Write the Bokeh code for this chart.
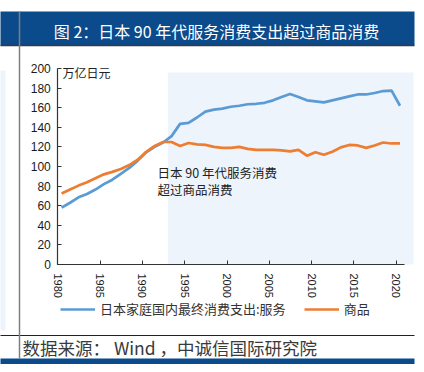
from bokeh.plotting import figure
from bokeh.models import Range1d, LinearAxis, FixedTicker, Label, Legend, LegendItem
from bokeh.embed import file_html
from bokeh.resources import INLINE

# ---------------- data ----------------
years = list(range(1980, 2021))
services = [58, 63, 68.5, 72, 76.5, 82, 86.5, 92.5, 98.5, 106, 114.5, 120, 124.5, 131,
            143.5, 144.5, 150, 156, 158, 159, 161, 162, 163.5, 164, 165, 167.5, 171,
            174, 171, 167.5, 166.5, 165.5, 167.5, 169.5, 171.5, 173.5, 173.5, 175, 177,
            177.5, 162]
goods = [72.5, 76.5, 80.5, 84, 88, 92, 94.5, 97.5, 101.5, 107, 115, 121, 125, 125,
         121, 124, 122.5, 122, 120, 119, 119, 120, 118, 117, 117, 117, 116.5, 115.5,
         117, 111, 114.5, 112, 115, 119.5, 122, 121.5, 119, 121.5, 124.5, 123.5, 123.5]
x_ticks = [1980, 1985, 1990, 1995, 2000, 2005, 2010, 2015, 2020]
y_ticks = [0, 20, 40, 60, 80, 100, 120, 140, 160, 180, 200]
shade_start = 1993
series_names = ["日本家庭国内最终消费支出:服务", "商品"]
title_text = "图 2：日本 90 年代服务消费支出超过商品消费"
source_text = "数据来源： Wind ，中诚信国际研究院"
unit_text = "万亿日元"
note_lines = ["日本 90 年代服务消费", "超过商品消费"]

# ---------------- canvas geometry ----------------
W, H = 416, 364
PX_YR = 8.46
X0_PX = 57.3          # canvas x of 1980
PX_U = 0.98
Y0_PX = 264.0         # canvas y of value 0
x_start = 1980 - X0_PX / PX_YR
x_end = x_start + W / PX_YR
y_end = Y0_PX / PX_U
y_start = (Y0_PX - H) / PX_U


def xd(px):
    return x_start + px / PX_YR


def yd(py):
    return (Y0_PX - py) / PX_U


CJK = "Noto Sans CJK SC"
BLUE_BAR = "#0b4a8b"

p = figure(width=W, height=H, output_backend="svg", toolbar_location=None,
           x_range=Range1d(x_start, x_end), y_range=Range1d(y_start, y_end),
           x_axis_location=None, y_axis_location=None, min_border=0,
           outline_line_color=None, background_fill_color="white",
           border_fill_color="white")
p.grid.visible = False

# title bar
p.quad(left=xd(-2), right=xd(414), top=yd(11), bottom=yd(45), fill_color=BLUE_BAR,
       line_color=None)
p.segment(x0=xd(-2), x1=xd(414), y0=yd(45), y1=yd(45), line_color="#3a3a3a", line_width=1.5)
# bottom bar
p.quad(left=xd(-2), right=xd(414), top=yd(358), bottom=yd(380), fill_color=BLUE_BAR,
       line_color=None)
# footer rule
p.segment(x0=xd(-2), x1=xd(414), y0=yd(335), y1=yd(335), line_color="#222222", line_width=1)
# vertical separator
p.segment(x0=xd(19), x1=xd(19), y0=yd(11), y1=yd(358), line_color="#7f7f7f", line_width=1.5)
# left neighbouring panel sliver
p.quad(left=xd(-2), right=xd(5), top=yd(70), bottom=yd(330), fill_color="#edf4fb",
       line_color=None)

# shaded period
p.quad(left=shade_start, right=xd(413), bottom=0, top=196, fill_color="#edf4fb",
       line_color=None)

xs = [y + 0.45 for y in years]
r1 = p.line(xs, services, line_color="#5b9bd5", line_width=2.7, line_join="round")
r2 = p.line(xs, goods, line_color="#ed7d31", line_width=2.7, line_join="round")

# axes
xaxis = LinearAxis(fixed_location=0, bounds=(1980, 2021), ticker=FixedTicker(ticks=x_ticks))
xaxis.major_label_orientation = "vertical"
yaxis = LinearAxis(fixed_location=1980, bounds=(0, 200), ticker=FixedTicker(ticks=y_ticks))
for ax in (xaxis, yaxis):
    ax.axis_line_color = "#333333"
    ax.axis_line_width = 1.2
    ax.major_tick_line_color = "#333333"
    ax.major_tick_in = 4
    ax.major_tick_out = 0
    ax.minor_tick_line_color = None
    ax.major_label_text_font = "Liberation Sans"
    ax.major_label_text_color = "#1a1a1a"
xaxis.major_label_text_font_size = "11px"
xaxis.major_label_standoff = 9
yaxis.major_label_text_font_size = "12px"
yaxis.major_label_standoff = 7
p.add_layout(xaxis, "below")
p.add_layout(yaxis, "left")

# texts
p.add_layout(Label(x=xd(216), y=yd(30), text=title_text, text_align="center",
                   text_baseline="middle", text_font=CJK, text_font_size="16px",
                   text_color="white"))
p.add_layout(Label(x=xd(22), y=yd(347), text=source_text, text_align="left",
                   text_baseline="middle", text_font=CJK, text_font_size="17.5px",
                   text_color="#3a3a3a"))
p.add_layout(Label(x=xd(62), y=yd(72), text=unit_text, text_align="left",
                   text_baseline="middle", text_font=CJK, text_font_size="12px",
                   text_color="#222222"))
for i, t in enumerate(note_lines):
    p.add_layout(Label(x=xd(157), y=yd(172 + 17 * i), text=t, text_align="left",
                       text_baseline="middle", text_font=CJK, text_font_size="12.5px",
                       text_color="#222222"))

legend = Legend(items=[LegendItem(label=series_names[0], renderers=[r1]),
                       LegendItem(label=series_names[1], renderers=[r2])],
                orientation="horizontal", location=(60, 46), padding=0, margin=0,
                spacing=18, glyph_width=35, glyph_height=14, label_standoff=5,
                label_text_font=CJK, label_text_font_size="13px",
                label_text_color="#333333", border_line_color=None,
                background_fill_alpha=0)
p.add_layout(legend)

open("out.html", "w").write(file_html(p, INLINE))
